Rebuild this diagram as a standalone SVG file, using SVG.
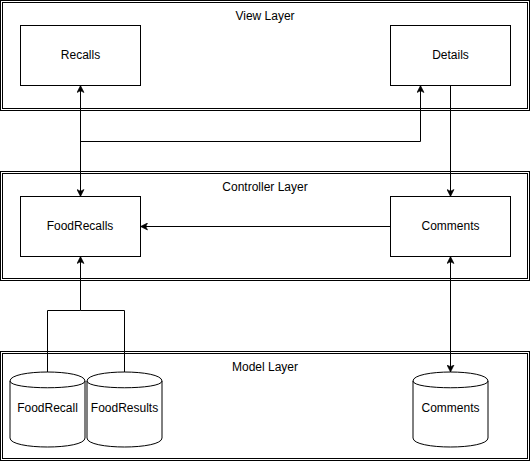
<svg xmlns="http://www.w3.org/2000/svg" width="532" height="463" viewBox="0 0 532 463">
<style>
.bg{fill:#ffffff}
.layer{fill:#ffffff;stroke:#000000;stroke-width:1}
.inner{fill:none;stroke:#000000;stroke-width:1}
.box{fill:#ffffff;stroke:#000000;stroke-width:1}
.edge{fill:none;stroke:#000000;stroke-width:1}
.lbl{font-family:"Liberation Sans",Arial,sans-serif;font-size:12px;fill:#000000;text-anchor:middle}
</style>
<defs>
<marker id="arr" viewBox="0 0 8 8" markerUnits="userSpaceOnUse" markerWidth="8" markerHeight="8" refX="7.5" refY="4" orient="auto-start-reverse">
<path d="M0.5,0.5 L7.5,4 L0.5,7.5 L2.2,4 Z" fill="#000000" stroke="#000000" stroke-width="0.6"/>
</marker>
</defs>
<rect class="bg" x="0" y="0" width="532" height="463"/>

<g id="view-layer">
<rect class="layer" x="0.5" y="0.5" width="529" height="110"/>
<rect class="inner" x="2.5" y="2.5" width="525" height="106"/>
<text class="lbl" x="265" y="20">View Layer</text>
</g>
<g id="controller-layer">
<rect class="layer" x="0.5" y="171.5" width="529" height="109"/>
<rect class="inner" x="2.5" y="173.5" width="525" height="105"/>
<text class="lbl" x="265" y="191">Controller Layer</text>
</g>
<g id="model-layer">
<rect class="layer" x="0.5" y="351.5" width="529" height="109"/>
<rect class="inner" x="2.5" y="353.5" width="525" height="105"/>
<text class="lbl" x="265" y="371">Model Layer</text>
</g>

<g id="connectors">
<path class="edge" d="M80.5,85.5 V196.5" marker-start="url(#arr)" marker-end="url(#arr)"/>
<path class="edge" d="M80.5,141.5 H420.5 V85.5" marker-end="url(#arr)"/>
<path class="edge" d="M450.5,85.5 V196.5" marker-end="url(#arr)"/>
<path class="edge" d="M390.5,226.5 H140.5" marker-end="url(#arr)"/>
<path class="edge" d="M450.5,256.5 V372" marker-start="url(#arr)" marker-end="url(#arr)"/>
<path class="edge" d="M47.5,372 V310.5 H80.5 V256.5" marker-end="url(#arr)"/>
<path class="edge" d="M124.5,372 V310.5 H80.5"/>
</g>

<g id="recalls">
<rect class="box" x="20.5" y="25.5" width="120" height="60"/>
<text class="lbl" x="80.5" y="59">Recalls</text>
</g>
<g id="details">
<rect class="box" x="390.5" y="25.5" width="120" height="60"/>
<text class="lbl" x="450.5" y="59">Details</text>
</g>
<g id="foodrecalls">
<rect class="box" x="20.5" y="196.5" width="120" height="60"/>
<text class="lbl" x="80" y="230">FoodRecalls</text>
</g>
<g id="comments-ctrl">
<rect class="box" x="390.5" y="196.5" width="120" height="60"/>
<text class="lbl" x="450.5" y="230">Comments</text>
</g>
<g id="foodrecall-db">
<path class="box" d="M10,381 C10,369 85,369 85,381 L85,438 C85,450 10,450 10,438 Z"/>
<path class="edge" d="M10,381 C10,390 85,390 85,381"/>
<text class="lbl" x="47.5" y="412">FoodRecall</text>
</g>
<g id="foodresults-db">
<path class="box" d="M87,381 C87,369 162,369 162,381 L162,438 C162,450 87,450 87,438 Z"/>
<path class="edge" d="M87,381 C87,390 162,390 162,381"/>
<text class="lbl" x="124.5" y="412">FoodResults</text>
</g>
<g id="comments-db">
<path class="box" d="M413,381 C413,369 488,369 488,381 L488,438 C488,450 413,450 413,438 Z"/>
<path class="edge" d="M413,381 C413,390 488,390 488,381"/>
<text class="lbl" x="450.5" y="412">Comments</text>
</g>
</svg>
